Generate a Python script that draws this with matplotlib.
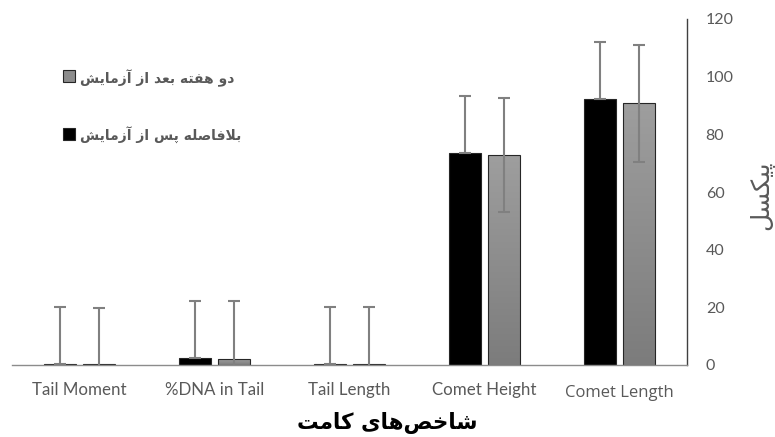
import numpy as np
import matplotlib
matplotlib.use("Agg")
import matplotlib.pyplot as plt
from matplotlib.patches import Rectangle
from matplotlib.colors import LinearSegmentedColormap

# ---------------------------------------------------------------- data
categories = ["Tail Moment", "%DNA in Tail", "Tail Length", "Comet Height", "Comet Length"]
immediate = [0.5, 2.3, 0.4, 73.6, 92.2]
immediate_err = [19.7, 19.8, 19.6, 19.7, 19.9]
two_weeks = [0.2, 2.0, 0.2, 72.8, 90.8]
two_weeks_err = [19.7, 20.1, 19.8, 19.7, 20.3]
y_ticks = [0, 20, 40, 60, 80, 100, 120]

label_immediate = "بلافاصله پس از آزمایش"
label_two_weeks = "دو هفته بعد از آزمایش"
x_title = "شاخص‌های کامت"
y_title = "پیکسل"

# ------------------------------------------------ simple Persian shaping
# (isolated, final, initial, medial); right-joining letters have only two forms
FORMS = {
    "ا": ("\uFE8D", "\uFE8E"), "آ": ("\uFE81", "\uFE82"),
    "د": ("\uFEA9", "\uFEAA"), "ز": ("\uFEAF", "\uFEB0"), "و": ("\uFEED", "\uFEEE"),
    "ب": ("\uFE8F", "\uFE90", "\uFE91", "\uFE92"),
    "پ": ("\uFB56", "\uFB57", "\uFB58", "\uFB59"),
    "ت": ("\uFE95", "\uFE96", "\uFE97", "\uFE98"),
    "خ": ("\uFEA5", "\uFEA6", "\uFEA7", "\uFEA8"),
    "س": ("\uFEB1", "\uFEB2", "\uFEB3", "\uFEB4"),
    "ش": ("\uFEB5", "\uFEB6", "\uFEB7", "\uFEB8"),
    "ص": ("\uFEB9", "\uFEBA", "\uFEBB", "\uFEBC"),
    "ع": ("\uFEC9", "\uFECA", "\uFECB", "\uFECC"),
    "ف": ("\uFED1", "\uFED2", "\uFED3", "\uFED4"),
    "ک": ("\uFB8E", "\uFB8F", "\uFB90", "\uFB91"),
    "ل": ("\uFEDD", "\uFEDE", "\uFEDF", "\uFEE0"),
    "م": ("\uFEE1", "\uFEE2", "\uFEE3", "\uFEE4"),
    "ه": ("\uFEE9", "\uFEEA", "\uFEEB", "\uFEEC"),
    "ی": ("\uFBFC", "\uFBFD", "\uFBFE", "\uFBFF"),
    "LA": ("\uFEFB", "\uFEFC"),
}


def shape(text):
    # merge lam + alef into the ligature token
    tokens = []
    i = 0
    while i < len(text):
        if text[i] == "ل" and i + 1 < len(text) and text[i + 1] == "ا":
            tokens.append("LA")
            i += 2
        else:
            tokens.append(text[i])
            i += 1
    out = []
    for k, t in enumerate(tokens):
        if t not in FORMS:
            if t != "\u200c":
                out.append(t)
            continue
        prev = tokens[k - 1] if k > 0 else None
        nxt = tokens[k + 1] if k + 1 < len(tokens) else None
        join_prev = prev in FORMS and len(FORMS[prev]) == 4
        join_next = len(FORMS[t]) == 4 and nxt in FORMS
        f = FORMS[t]
        if join_prev and join_next:
            out.append(f[3])
        elif join_prev:
            out.append(f[1])
        elif join_next:
            out.append(f[2])
        else:
            out.append(f[0])
    return "".join(reversed(out))


# ---------------------------------------------------------------- figure
fig = plt.figure(figsize=(7.75, 4.37), dpi=100)
ax = fig.add_axes([12 / 775, 1 - 365 / 437, (687 - 12) / 775, (365 - 19) / 437])

x = np.arange(len(categories))
width = 0.237
offset = 0.145

# immediate series: solid black bars, upward error only
ax.bar(x - offset, immediate, width, color="black", edgecolor="#262626",
       linewidth=0.8, zorder=2)
eb1 = ax.errorbar(x - offset, immediate, yerr=[np.zeros(len(x)), immediate_err],
                  fmt="none", ecolor="#808080", elinewidth=1.5, capsize=4,
                  capthick=1.5, zorder=3)

# two-weeks series: gray gradient bars
cmap = LinearSegmentedColormap.from_list("g", ["#7c7c7c", "#9e9e9e"])
grad = np.linspace(0, 1, 256).reshape(-1, 1)
for xi, h in zip(x + offset, two_weeks):
    ax.imshow(grad, extent=(xi - width / 2, xi + width / 2, 0, h), origin="lower",
              aspect="auto", cmap=cmap, zorder=2, interpolation="bicubic")
    ax.add_patch(Rectangle((xi - width / 2, 0), width, h, facecolor="none",
                           edgecolor="#262626", linewidth=0.8, zorder=2.5))
eb2 = ax.errorbar(x + offset, two_weeks, yerr=two_weeks_err, fmt="none",
                  ecolor="#808080", elinewidth=1.5, capsize=4, capthick=1.5,
                  zorder=3)
for eb in (eb1, eb2):
    for cap in eb[1]:
        cap.set_color("#3a3a3a")

ax.set_xlim(-0.5, 4.5)
ax.set_ylim(0, 120)

# axes styling: value axis on the right
for s in ("top", "left"):
    ax.spines[s].set_visible(False)
ax.spines["right"].set_color("#404040")
ax.spines["right"].set_linewidth(1.0)
ax.spines["bottom"].set_color("#8c8c8c")
ax.spines["bottom"].set_linewidth(1.0)
ax.yaxis.tick_right()
ax.set_yticks(y_ticks)
ax.set_yticklabels([str(v) for v in y_ticks], fontsize=11.5, color="#595959",
                   family="Lato")
for lab in ax.get_yticklabels():
    lab.set_horizontalalignment("left")
ax.tick_params(axis="y", length=0, pad=13.5)
ax.tick_params(axis="x", length=0)
ax.set_xticks(x)
ax.set_xticklabels([])

for i, c in enumerate(categories):
    if i == len(categories) - 1:
        ax.annotate(c, (i, 0), xytext=(0, -20), textcoords="offset points",
                    ha="center", va="center", fontsize=12, color="#595959",
                    family="Open Sans")
    else:
        ax.annotate(c, (i, 0), xytext=(0, -18), textcoords="offset points",
                    ha="center", va="center", fontsize=12.2, color="#595959",
                    family="Lato")

# axis titles
fig.text(387 / 775, 1 - 423 / 437, shape(x_title), ha="center", va="center",
         fontsize=15.5, fontweight="bold", color="black", family="DejaVu Sans")
fig.text(762 / 775, 1 - 195 / 437, shape(y_title), ha="center", va="center",
         rotation=90, fontsize=18, color="#595959", family="DejaVu Sans")

# legend
fig.patches.append(Rectangle((63 / 775, 1 - 82 / 437), 12 / 775, 12 / 437,
                             transform=fig.transFigure, facecolor="#8c8c8c",
                             edgecolor="#262626", linewidth=0.8))
fig.patches.append(Rectangle((63 / 775, 1 - 140 / 437), 12 / 775, 12 / 437,
                             transform=fig.transFigure, facecolor="black",
                             edgecolor="#262626", linewidth=0.8))
fig.text(80 / 775, 1 - 78 / 437, shape(label_two_weeks), ha="left", va="center",
         fontsize=10, fontweight="bold", color="#595959", family="DejaVu Sans")
fig.text(80 / 775, 1 - 135 / 437, shape(label_immediate), ha="left", va="center",
         fontsize=10, fontweight="bold", color="#595959", family="DejaVu Sans")

fig.savefig("out.png", dpi=100)
